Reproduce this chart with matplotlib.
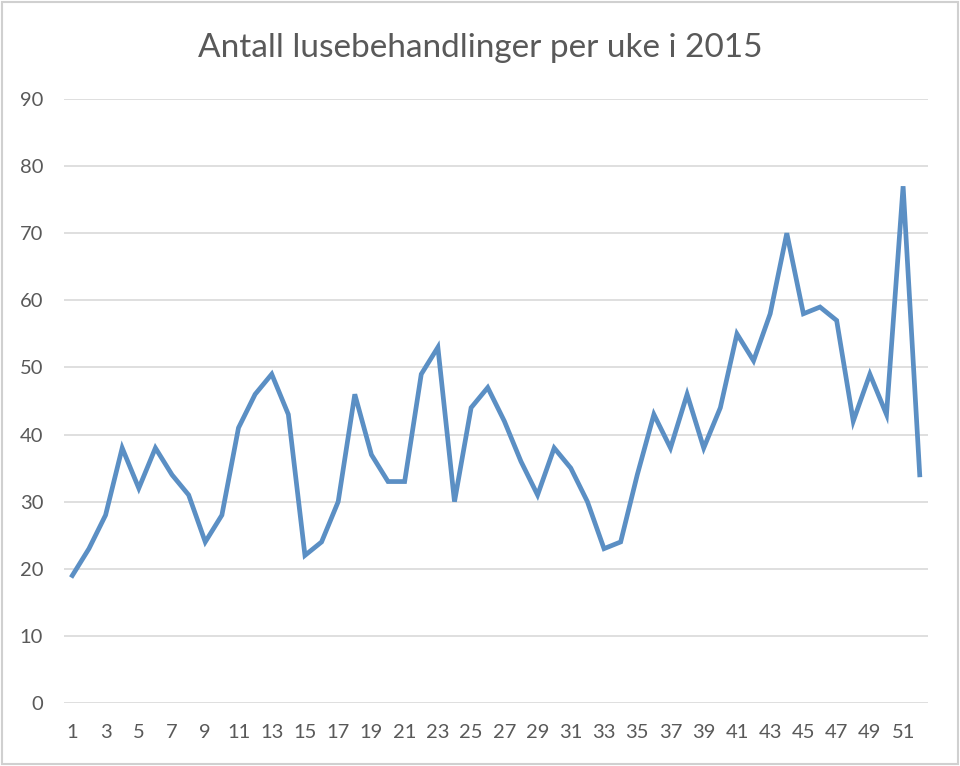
import matplotlib.pyplot as plt
from matplotlib.patches import Rectangle

plt.rcParams["font.family"] = ["Lato", "DejaVu Sans"]

# Antall lusebehandlinger per uke, 2015
weeks = list(range(1, 53))
treatments = [19, 23, 28, 38, 32, 38, 34, 31, 24, 28,
              41, 46, 49, 43, 22, 24, 30, 46, 37, 33,
              33, 49, 53, 30, 44, 47, 42, 36, 31, 38,
              35, 30, 23, 24, 34, 43, 38, 46, 38, 44,
              55, 51, 58, 70, 58, 59, 57, 42, 49, 43,
              77, 34]
y_ticks = list(range(0, 91, 10))
x_ticks = list(range(1, 52, 2))

fig = plt.figure(figsize=(9.6, 7.66), dpi=100)
ax = fig.add_axes([0.0667, 0.0822, 0.9, 0.7886])

ax.plot(weeks, treatments, color="#5b8fc4", linewidth=3.4, solid_joinstyle="miter")

ax.set_xlim(0.5, 52.5)
ax.set_ylim(0, 90)
ax.set_yticks(y_ticks)
ax.set_xticks(x_ticks)
ax.grid(axis="y", color="#d9d9d9", linewidth=1.2)
ax.set_axisbelow(True)
for s in ax.spines.values():
    s.set_visible(False)
ax.tick_params(length=0, labelsize=14.5, colors="#595959")
ax.tick_params(axis="x", pad=15)
ax.tick_params(axis="y", pad=15)

fig.text(0.5, 0.9256, "Antall lusebehandlinger per uke i 2015", ha="center", va="baseline",
         fontsize=24, color="#595959")

# thin frame around the whole chart
fig.patches.append(Rectangle((0.002, 0.002), 0.996, 0.996, transform=fig.transFigure,
                             fill=False, edgecolor="#d0d0d0", linewidth=1.5))

fig.savefig("out.png", dpi=100)
